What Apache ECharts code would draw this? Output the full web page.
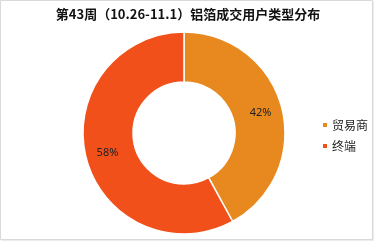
<!DOCTYPE html>
<html><head><meta charset="utf-8">
<script src="https://cdn.jsdelivr.net/npm/echarts@6/dist/echarts.min.js"></script>
<style>html,body{margin:0;padding:0;background:#fff}#c{width:375px;height:243px}</style>
</head><body><div id="c"></div>
<script>
const titleText = '第43周（10.26-11.1）铝箔成交用户类型分布';
const categories = ['贸易商', '终端'];
const values = [42, 58];
const colors = ['#E8891F', '#F2501A'];

const chart = echarts.init(document.getElementById('c'), null, {renderer: 'canvas'});
chart.setOption({
  animation: false,
  backgroundColor: '#fff',
  color: colors,
  title: {
    text: titleText, left: 183, top: 3, textAlign: 'center',
    textStyle: {fontFamily: 'Noto Sans CJK SC', fontWeight: 'bold', fontSize: 13, color: '#111'}
  },
  legend: {
    orient: 'vertical', left: 316, top: 114,
    itemWidth: 6, itemHeight: 6, itemGap: 9, icon: 'rect',
    data: categories,
    textStyle: {fontFamily: 'Noto Sans CJK SC', fontSize: 12, color: '#222', padding: [0,0,0,-1]}
  },
  graphic: [
    {type: 'rect', shape: {x: 0.5, y: 0.5, width: 372, height: 239}, style: {fill: 'none', stroke: '#d9d9d9', lineWidth: 1}, z: -1},
    {type: 'line', shape: {x1: 373.5, y1: 1, x2: 373.5, y2: 241}, style: {stroke: '#ececec', lineWidth: 1}},
    {type: 'line', shape: {x1: 1, y1: 240.5, x2: 374, y2: 240.5}, style: {stroke: '#ececec', lineWidth: 1}}
  ],
  series: [{
    type: 'pie',
    center: [184, 133],
    radius: [51, 101],
    startAngle: 90,
    clockwise: true,
    itemStyle: {borderColor: '#fff', borderWidth: 1.5},
    label: {
      show: true, position: 'inside', formatter: '{d}%',
      fontFamily: 'Noto Sans', fontSize: 11, color: '#222'
    },
    labelLine: {show: false},
    data: categories.map((n, i) => ({name: n, value: values[i]}))
  }]
});
</script></body></html>
